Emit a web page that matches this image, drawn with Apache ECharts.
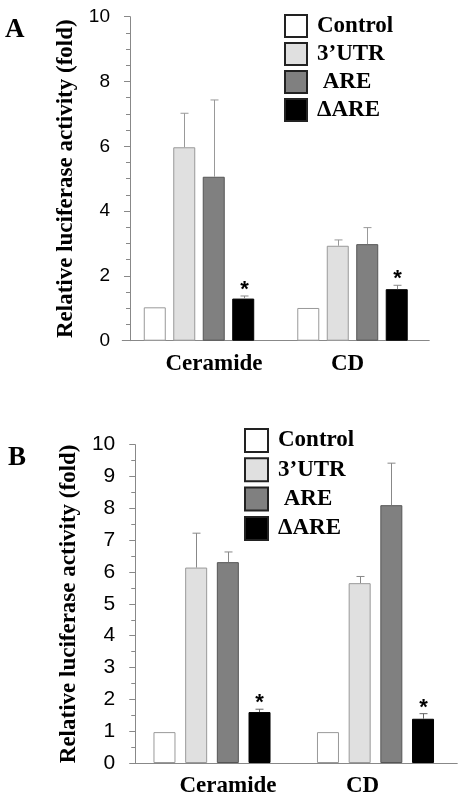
<!DOCTYPE html>
<html>
<head>
<meta charset="utf-8">
<script src="https://cdn.jsdelivr.net/npm/echarts@6/dist/echarts.min.js"></script>
<style>
html,body{margin:0;padding:0;background:#fff;}
#chart{width:468px;height:798px;}
</style>
</head>
<body>
<div id="chart"></div>
<script>
// ---- data ----
const categories = ['Ceramide', 'CD'];
const seriesNames = ['Control', '3\u2019UTR', ' ARE', '\u0394ARE'];
const yTitle = 'Relative luciferase activity (fold)';
const panelLetters = ['A', 'B'];

// Panel A values
const aControl = [1.03, 1.01];
const aUTR = [5.97, 2.93];
const aARE = [5.06, 2.98];
const aDARE = [1.30, 1.59];
// Panel A error bar tops
const aUTRErr = [7.02, 3.11];
const aAREErr = [7.43, 3.49];
const aDAREErr = [1.38, 1.71];
const aStars = [true, true];

// Panel B values
const bControl = [0.97, 0.97];
const bUTR = [6.14, 5.65];
const bARE = [6.31, 8.10];
const bDARE = [1.60, 1.39];
// Panel B error bar tops
const bUTRErr = [7.22, 5.86];
const bAREErr = [6.63, 9.42];
const bDAREErr = [1.69, 1.55];
const bStars = [true, true];

// ---- styles ----
const serif = '"Liberation Serif","Times New Roman",serif';
const sans = '"Liberation Sans",Arial,Helvetica,sans-serif';
const barStyles = [
  {color: '#ffffff', borderColor: '#999999', borderWidth: 1},
  {color: '#e0e0e0', borderColor: '#999999', borderWidth: 1},
  {color: '#808080', borderColor: '#555555', borderWidth: 1},
  {color: '#000000', borderColor: '#000000', borderWidth: 1}
];
const BAR_W = 22;
const stepA = 29.7, stepB = 31.6;

function barSeries(gi, vals, idx, gap) {
  return {
    type: 'bar', name: seriesNames[idx], xAxisIndex: gi, yAxisIndex: gi,
    data: vals, barWidth: BAR_W, barGap: gap, silent: true,
    itemStyle: barStyles[idx]
  };
}

function errSeries(gi, vals, errs, stars, slot, step, color) {
  return {
    type: 'custom', xAxisIndex: gi, yAxisIndex: gi, z: 5, silent: true,
    data: vals.map((v, i) => [i, v, errs[i], stars && stars[i] ? 1 : 0]),
    encode: {x: 0, y: [1, 2]},
    renderItem(params, api) {
      const base = api.coord([api.value(0), api.value(1)]);
      const top = api.coord([api.value(0), api.value(2)]);
      const x = Math.round(base[0] + (slot - 1.5) * step) + 0.5;
      const children = [
        {type: 'line', shape: {x1: x, y1: base[1], x2: x, y2: top[1]}, style: {stroke: color, lineWidth: 1}},
        {type: 'line', shape: {x1: x - 4, y1: top[1], x2: x + 4, y2: top[1]}, style: {stroke: color, lineWidth: 1}}
      ];
      if (api.value(3)) {
        children.push({type: 'text', style: {text: '*', x: x, y: top[1] - 6, align: 'center', verticalAlign: 'middle',
          font: 'bold 22px ' + sans, fill: '#000'}});
      }
      return {type: 'group', children};
    }
  };
}

function yAxisCfg(gi, interval, minorSplit, offset, fontSize, nameGap) {
  return {
    gridIndex: gi, type: 'value', min: 0, max: 10, interval: interval, offset: offset,
    name: yTitle, nameLocation: 'middle', nameGap: nameGap,
    nameTextStyle: {fontFamily: serif, fontWeight: 'bold', fontSize: 23, color: '#000'},
    axisLine: {show: true, lineStyle: {color: '#888'}},
    axisTick: {show: true, length: 6, lineStyle: {color: '#888'}},
    minorTick: {show: true, splitNumber: minorSplit, length: 4, lineStyle: {color: '#888'}},
    splitLine: {show: false},
    axisLabel: {fontFamily: sans, fontSize: fontSize, color: '#000', margin: 20}
  };
}

function xAxisCfg(gi, padL, padR) {
  const rs = {fontFamily: serif, fontWeight: 'bold', fontSize: 23, color: '#000'};
  return {
    gridIndex: gi, type: 'category', data: categories,
    axisTick: {show: false},
    axisLine: {lineStyle: {color: '#888'}},
    axisLabel: {
      margin: 12, interval: 0,
      formatter: (v, i) => (i === 0 ? '{l|' + v + '}' : '{r|' + v + '}'),
      rich: {
        l: Object.assign({padding: [0, 0, 0, padL]}, rs),
        r: Object.assign({padding: [0, padR, 0, 0]}, rs)
      }
    }
  };
}

function legendCfg(left, top, size, gap) {
  return {
    orient: 'vertical', left: left, top: top, padding: 0, data: seriesNames, selectedMode: false,
    icon: 'rect', itemWidth: size, itemHeight: size, itemGap: gap,
    itemStyle: {borderColor: '#222', borderWidth: 2},
    textStyle: {fontFamily: serif, fontWeight: 'bold', fontSize: 23, color: '#000', lineHeight: size, padding: [0, 0, 0, 5]}
  };
}

const chart = echarts.init(document.getElementById('chart'), null, {renderer: 'canvas'});
chart.setOption({
  animation: false,
  backgroundColor: '#fff',
  grid: [
    {left: 122.25, width: 307, top: 16.7, height: 324},
    {left: 130.25, width: 327, top: 444.7, height: 319}
  ],
  xAxis: [xAxisCfg(0, 30, 10), xAxisCfg(1, 32, 26)],
  yAxis: [yAxisCfg(0, 2, 4, -7.75, 19, 46), yAxisCfg(1, 1, 2, -5, 21, 49)],
  legend: [legendCfg(284, 14, 22, 4), legendCfg(244, 428, 23, 4.3)],
  graphic: [
    {type: 'text', left: 5, top: 17, style: {text: panelLetters[0], font: 'bold 27px ' + serif, fill: '#000'}},
    {type: 'text', left: 8, top: 445, style: {text: panelLetters[1], font: 'bold 27px ' + serif, fill: '#000'}}
  ],
  series: [
    barSeries(0, aControl, 0, '34%'),
    barSeries(0, aUTR, 1, '34%'),
    barSeries(0, aARE, 2, '34%'),
    barSeries(0, aDARE, 3, '34%'),
    errSeries(0, aUTR, aUTRErr, null, 1, stepA, '#999'),
    errSeries(0, aARE, aAREErr, null, 2, stepA, '#999'),
    errSeries(0, aDARE, aDAREErr, aStars, 3, stepA, '#888'),
    barSeries(1, bControl, 0, '44%'),
    barSeries(1, bUTR, 1, '44%'),
    barSeries(1, bARE, 2, '44%'),
    barSeries(1, bDARE, 3, '44%'),
    errSeries(1, bUTR, bUTRErr, null, 1, stepB, '#888'),
    errSeries(1, bARE, bAREErr, null, 2, stepB, '#888'),
    errSeries(1, bDARE, bDAREErr, bStars, 3, stepB, '#666')
  ]
});
</script>
</body>
</html>
